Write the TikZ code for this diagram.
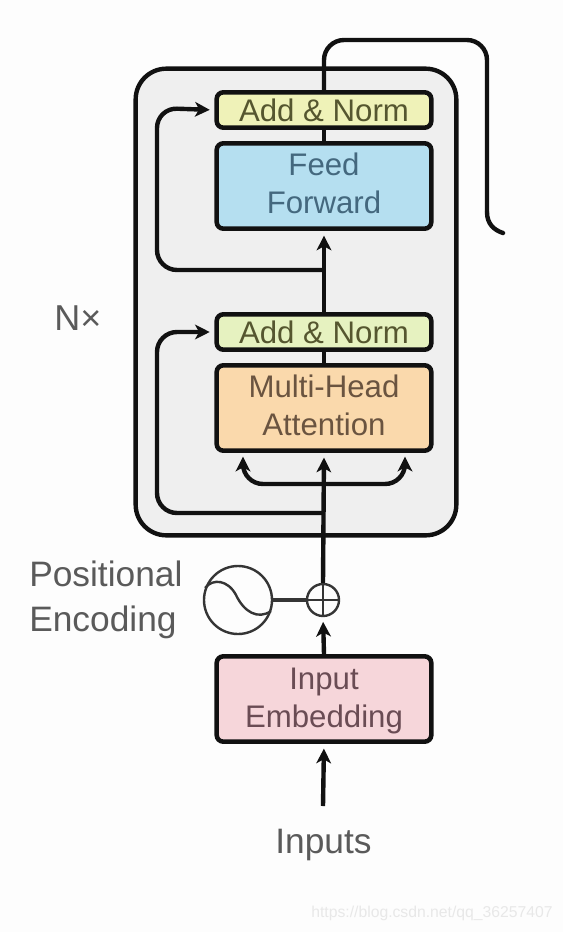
\documentclass[tikz,border=0pt]{standalone}
\usepackage{fontspec}
\setmainfont{Liberation Sans}
\usetikzlibrary{arrows.meta}
\definecolor{bgc}{HTML}{FDFDFD}
\definecolor{framefill}{HTML}{EFEFEF}
\definecolor{addfillA}{HTML}{EFF2B8}
\definecolor{addfillB}{HTML}{E6F2C0}
\definecolor{ffill}{HTML}{B5DFF0}
\definecolor{mhfill}{HTML}{FAD9AC}
\definecolor{embfill}{HTML}{F6D6DA}
\definecolor{ink}{HTML}{111111}
\definecolor{txt}{HTML}{5A5A5A}
\definecolor{addtxt}{HTML}{55562F}
\definecolor{fftxt}{HTML}{44687E}
\definecolor{mhtxt}{HTML}{6A5440}
\definecolor{embtxt}{HTML}{6A4C54}
\tikzset{
  px/.style={x=0.75pt,y=-0.75pt},
  blockbox/.style={draw=ink,line width=3.4pt,rounded corners=5pt,align=center,inner sep=0pt,
    minimum width=161pt,font=\fontsize{23.4}{28.5}\selectfont},
  tallbox/.style={blockbox,minimum height=64pt},
  normbox/.style={blockbox,minimum height=26.5pt,text=addtxt},
  label text/.style={text=txt,inner sep=0pt,font=\fontsize{26.5}{33.75}\selectfont,align=left},
  conn/.style={draw=ink,line width=3.3pt},
  arrowc/.style={conn,-{Stealth[length=11pt,width=11pt,inset=3pt]},shorten >=3.5pt},
  resid/.style={arrowc,rounded corners=15pt},
  thin conn/.style={draw=ink!85,line width=1.8pt},
}
\begin{document}
\begin{tikzpicture}[px]
\useasboundingbox[fill=bgc] (0,0) rectangle (563,932);
\node[draw=ink,line width=3.3pt,fill=framefill,rounded corners=23pt,inner sep=0pt,
  minimum width=240.5pt,minimum height=350pt] (frame) at (296,302) {};
% blocks
\node[normbox,fill=addfillA] (an2) at (324,110) {Add \& Norm};
\node[tallbox,fill=ffill,text=fftxt,text depth=4.5pt] (ff) at (324,186) {Feed\\Forward};
\node[normbox,fill=addfillB] (an1) at (324,332) {Add \& Norm};
\node[tallbox,fill=mhfill,text=mhtxt,text depth=4.5pt] (mha) at (324,408) {Multi-Head\\Attention};
\node[tallbox,fill=embfill,text=embtxt] (emb) at (324,699) {\rule{0pt}{19pt}Input\\Embedding};
\node[draw=ink!85,line width=1.8pt,circle,minimum size=24pt,inner sep=0pt] (sum) at (323,600) {};
\node[draw=ink!85,line width=1.8pt,circle,minimum size=51pt,inner sep=0pt] (pe) at (238,600) {};
% labels
\node[label text,font=\fontsize{27}{30}\selectfont] (nx) at (78,318) {N×};
\node[label text,anchor=north west] (posenc) at (29,561) {Positional\\Encoding};
\node[label text] (inputs) at (323.5,845) {Inputs};
\node[text=black!9,inner sep=0pt,font=\fontsize{11.8}{13}\selectfont] (wm) at (432,913) {https://blog.csdn.net/qq\_36257407};
% coordinates
\coordinate (inTail) at (323,806);
\coordinate (junctionB) at (324,513);
\coordinate (junctionA) at (324,270);
\coordinate (leftA) at (157,108);
\coordinate (leftB) at (157,332);
\coordinate (topL) at (324,40);
\coordinate (topR) at (487,40);
\coordinate (outBend) at (487,212);
\coordinate (outEnd) at (503,233);
\coordinate (sideL) at (243,484);
\coordinate (sideR) at (405,484);
\coordinate (sideLtip) at (243,452);
\coordinate (sideRtip) at (405,452);
% connectors
\draw[arrowc] (inTail) -- (emb.south);
\draw[arrowc] (emb.north) -- (sum.south);
\draw[arrowc] (sum.north) -- (mha.south);
\draw[conn] (mha.north) -- (an1.south);
\draw[arrowc] (an1.north) -- (ff.south);
\draw[conn] (ff.north) -- (an2.south);
\draw[thin conn,line width=2.4pt] (pe.east) -- (sum.west);
\draw[thin conn] (sum.west) -- (sum.east);
\draw[thin conn] (sum.north) -- (sum.south);
\draw[resid] (junctionB) -| (leftB) -- (an1.west);
\draw[resid] (junctionA) -| (leftA) -- (an2.west);
\draw[conn,rounded corners=15pt,{Stealth[length=11pt,width=11pt,inset=3pt]}-{Stealth[length=11pt,width=11pt,inset=3pt]},shorten >=3.5pt,shorten <=3.5pt]
  (sideLtip) -- (sideL) -- (sideR) -- (sideRtip);
\draw[conn,rounded corners=15pt] (an2.north) -- (topL) -- (topR) -- (outBend);
\draw[conn,line cap=round] (outBend) .. controls (487,224) and (494,230) .. (outEnd);
% sine wave
\draw[thin conn] (205,588) .. controls (213,578) and (228,580) .. (236,595)
  .. controls (244,612) and (258,620) .. (271,611);
\end{tikzpicture}
\end{document}
